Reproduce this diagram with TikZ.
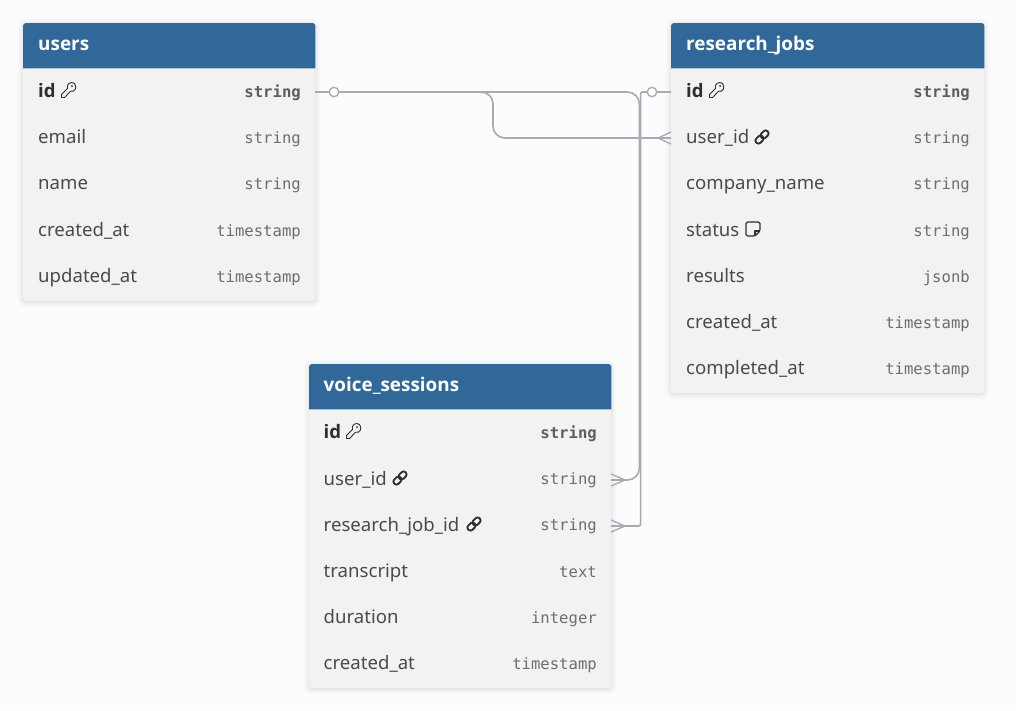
\documentclass[tikz,border=0pt]{standalone}
\usepackage{fontspec}
\setmainfont{Noto Sans}
\newfontfamily\heavyfont{Open Sans}
\newfontfamily\typefont{DejaVu Sans Mono}
\definecolor{pagebg}{HTML}{FCFCFC}
\definecolor{headblue}{HTML}{31689A}
\definecolor{bodygrey}{HTML}{F2F2F2}
\definecolor{linegrey}{HTML}{A9A9B5}
\definecolor{labeltxt}{HTML}{4A4A4A}
\definecolor{darktxt}{HTML}{2E2E2E}
\definecolor{typetxt}{HTML}{6E6E6E}
\tikzset{
  x=1pt,y=-1pt,
  headbox/.style={inner sep=0pt,anchor=north west,minimum height=45pt},
  headtext/.style={text=white,font=\fontsize{18.9}{20}\heavyfont\bfseries,anchor=base west,inner sep=0pt},
  rowbox/.style={inner sep=0pt,anchor=west,minimum height=46pt},
  fieldtext/.style={text=labeltxt,font=\fontsize{18.6}{21}\selectfont,anchor=base west,inner sep=0pt},
  keytext/.style={text=darktxt,font=\fontsize{18.6}{21}\heavyfont\bfseries,anchor=base west,inner sep=0pt},
  typelabel/.style={text=typetxt,font=\fontsize{15.6}{18}\typefont,anchor=base east,inner sep=0pt},
  keytype/.style={text=typetxt!85!black,font=\fontsize{15.6}{18}\typefont\bfseries,anchor=base east,inner sep=0pt},
  conn/.style={draw=linegrey,line width=1.6pt,rounded corners=12pt},
  connsharp/.style={draw=linegrey,line width=1.6pt,rounded corners=2pt},
  crow/.style={draw=linegrey,line width=1.3pt},
  ring/.style={circle,draw=linegrey,fill=pagebg,line width=1.3pt,minimum size=9.5pt,inner sep=0pt},
  keypic/.pic={
    \draw[darktxt,line width=.9pt,line join=round] (-7.5,7.5) -- (-7.5,4.5) -- (-1.5,-1.5)
      .. controls (-3,-6.5) and (2.5,-9) .. (5.5,-6.5) .. controls (8.5,-3.5) and (6,3) .. (1.5,1.2)
      -- (-4.5,7.5) -- cycle;
    \fill[darktxt] (3,-4) circle (1pt);
  },
  linkpic/.pic={
    \begin{scope}[rotate=45]
    \draw[darktxt,line width=1.8pt,rounded corners=2.8pt] (-0.8,-3) rectangle (8,3);
    \draw[darktxt,line width=1.8pt,rounded corners=2.8pt] (-8,-3) rectangle (0.8,3);
    \end{scope}
  },
  notepic/.pic={
    \draw[darktxt,line width=1.2pt,line join=round,rounded corners=1.5pt] (-7,-7) -- (7,-7) -- (7,2) -- (2,7) -- (-7,7) -- cycle;
    \draw[darktxt,line width=1.2pt,line join=round] (7,2) -- (2,2) -- (2,7);
  },
}
% softly blurred card shadow
\newcommand{\cardshadow}[4]{%
  \foreach \s/\o in {6/.007,5/.008,4/.010,3/.012,2/.014,1/.016,0/.018}{
    \fill[black,opacity=\o,rounded corners=3pt+\s pt] (#1-\s,#2-\s+1) rectangle (#3+\s,#4+\s+1);
  }%
}
\newcommand{\rowfield}[6]{%
  \node[rowbox,minimum width=#3pt-#2pt] (#1) at (#2,#4) {};
  \node[fieldtext] at (#2+15,#4+6.6) {#5};
  \node[typelabel] at (#3-14,#4+6) {#6};
}
\newcommand{\rowkey}[6]{%
  \node[rowbox,minimum width=#3pt-#2pt] (#1) at (#2,#4) {};
  \node[keytext] at (#2+15,#4+6.6) {#5};
  \node[keytype] at (#3-14,#4+6) {#6};
}
\newcommand{\cardtop}[7]{%
  \cardshadow{#2}{#3}{#4}{#5}
  \fill[bodygrey,rounded corners=3pt] (#2,#3) rectangle (#4,#5);
  \node[headbox,minimum width=#4pt-#2pt] (#1) at (#2,#3) {};
  \fill[headblue] (#1.south west) [rounded corners=3pt] -- (#1.north west) -- (#1.north east) [sharp corners] -- (#1.south east) -- cycle;
  \node[headtext] at (#2+#7,#3+27.2) {#6};
}
\begin{document}
\begin{tikzpicture}
\useasboundingbox (0,0) rectangle (1016,710);
\fill[pagebg] (0,0) rectangle (1016,710);

% users
\cardtop{users}{23}{23}{315}{301}{users}{15}
\rowkey{users-id}{23}{315}{91}{id}{string}
\rowfield{users-email}{23}{315}{137}{email}{string}
\rowfield{users-name}{23}{315}{183}{name}{string}
\rowfield{users-created}{23}{315}{230}{created\_at}{timestamp}
\rowfield{users-updated}{23}{315}{276}{updated\_at}{timestamp}
\pic at (69,90) {keypic};

% research_jobs
\cardtop{jobs}{671}{23}{984}{393}{research\_jobs}{15}
\rowkey{jobs-id}{671}{984}{91}{id}{string}
\rowfield{jobs-user}{671}{984}{137}{user\_id}{string}
\rowfield{jobs-company}{671}{984}{183}{company\_name}{string}
\rowfield{jobs-status}{671}{984}{230}{status}{string}
\rowfield{jobs-results}{671}{984}{276}{results}{jsonb}
\rowfield{jobs-created}{671}{984}{322}{created\_at}{timestamp}
\rowfield{jobs-completed}{671}{984}{368}{completed\_at}{timestamp}
\pic at (717,90) {keypic};
\pic at (762,137) {linkpic};
\pic at (753,229) {notepic};

% voice_sessions
\cardtop{voice}{309}{364}{611}{688}{voice\_sessions}{14.5}
\rowkey{voice-id}{308.5}{611}{432}{id}{string}
\rowfield{voice-user}{308.5}{611}{478.5}{user\_id}{string}
\rowfield{voice-job}{308.5}{611}{524.5}{research\_job\_id}{string}
\rowfield{voice-transcript}{308.5}{611}{571}{transcript}{text}
\rowfield{voice-duration}{308.5}{611}{617}{duration}{integer}
\rowfield{voice-created}{308.5}{611}{663}{created\_at}{timestamp}
\pic at (354,431) {keypic};
\pic at (400,478) {linkpic};
\pic at (474,524) {linkpic};

% connectors
\coordinate (usersOut) at (315,92);
\coordinate (jobsIdIn) at (671,92);
\coordinate (jobsUserIn) at (671,138);
\coordinate (voiceUserIn) at (611,480);
\coordinate (voiceJobIn) at (611,526);

\draw[conn] (usersOut) -- (493,92) -- (493,138) -- (jobsUserIn);
\draw[conn] (usersOut) -- (639.4,92) -- (639.4,480) -- (voiceUserIn);
\draw[connsharp] (jobsIdIn) -- (640.6,92) -- (640.6,526) -- (voiceJobIn);

\node[ring] (ringUsers) at (334,92) {};
\node[ring] (ringJobs) at (652,92) {};

\draw[crow] (671,132) -- (658,138) -- (671,144);
\draw[crow] (611,474) -- (625,480) -- (611,486);
\draw[crow] (611,520) -- (625,526) -- (611,532);
\end{tikzpicture}
\end{document}
